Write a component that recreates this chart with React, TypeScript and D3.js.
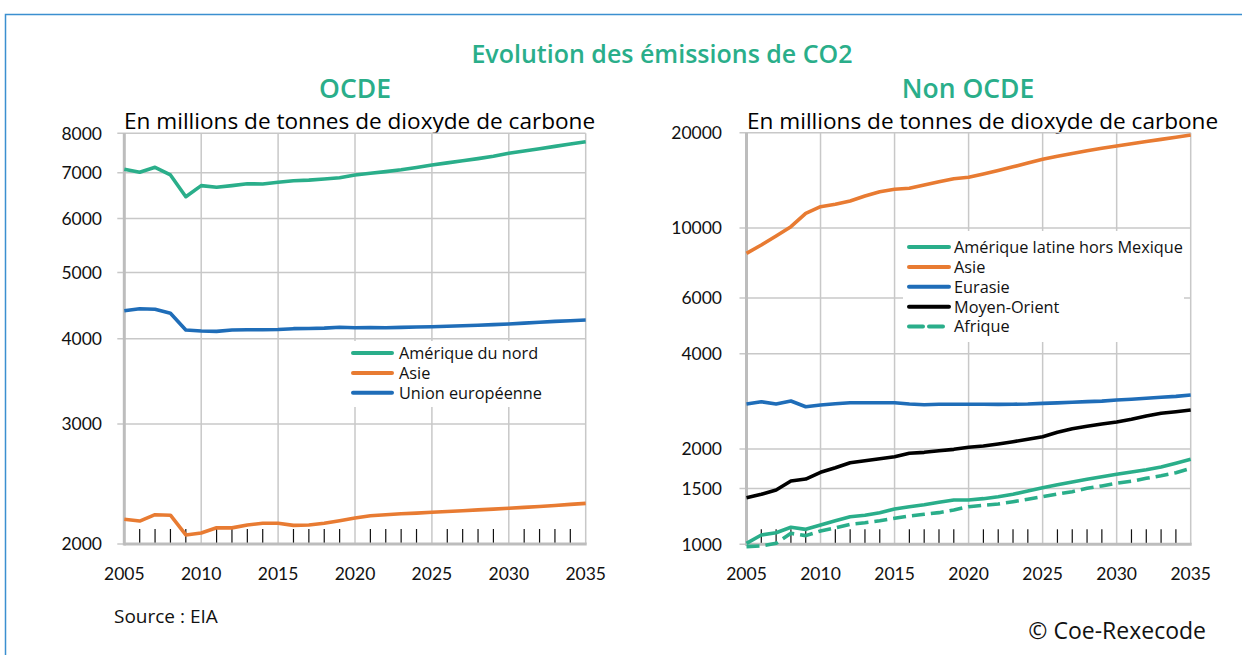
import React from "react";
import * as d3 from "d3";

const years = d3.range(2005, 2036);

// OCDE (millions de tonnes de CO2)
const ocdeAmeriqueNord = [7085, 7014, 7133, 6950, 6459, 6704, 6667, 6704, 6749, 6740, 6781, 6817, 6830, 6857, 6887, 6950, 6990, 7030, 7075, 7130, 7188, 7240, 7290, 7345, 7405, 7478, 7535, 7595, 7655, 7715, 7776];
const ocdeAsie = [2174, 2161, 2208, 2204, 2062, 2076, 2113, 2112, 2132, 2145, 2145, 2130, 2132, 2145, 2164, 2183, 2200, 2208, 2215, 2220, 2226, 2232, 2238, 2244, 2250, 2256, 2263, 2270, 2278, 2286, 2294];
const ocdeUE = [4396, 4425, 4417, 4358, 4119, 4105, 4100, 4119, 4123, 4123, 4125, 4137, 4140, 4145, 4157, 4150, 4152, 4150, 4155, 4160, 4165, 4170, 4178, 4186, 4194, 4203, 4215, 4228, 4240, 4250, 4260];

// Non OCDE
const nonAmLatine = [1007, 1070, 1088, 1132, 1115, 1151, 1187, 1222, 1235, 1259, 1293, 1315, 1334, 1358, 1380, 1380, 1394, 1414, 1439, 1474, 1510, 1543, 1574, 1605, 1636, 1664, 1693, 1721, 1755, 1803, 1856];
const nonAsie = [8314, 8830, 9430, 10090, 11123, 11670, 11876, 12165, 12617, 13015, 13250, 13345, 13667, 14000, 14311, 14455, 14820, 15200, 15600, 16050, 16478, 16850, 17200, 17550, 17850, 18155, 18450, 18750, 19050, 19350, 19668];
const nonEurasie = [2776, 2823, 2776, 2838, 2722, 2756, 2782, 2803, 2803, 2803, 2803, 2776, 2762, 2770, 2770, 2770, 2770, 2768, 2772, 2776, 2790, 2800, 2812, 2824, 2836, 2858, 2875, 2895, 2915, 2935, 2964];
const nonMoyenOrient = [1404, 1439, 1485, 1585, 1608, 1689, 1746, 1811, 1838, 1865, 1892, 1939, 1953, 1976, 1996, 2026, 2045, 2075, 2110, 2147, 2188, 2259, 2319, 2360, 2400, 2435, 2484, 2544, 2595, 2625, 2658];
const nonAfrique = [983, 988, 1007, 1083, 1065, 1102, 1128, 1157, 1170, 1187, 1208, 1229, 1244, 1259, 1284, 1315, 1328, 1341, 1363, 1388, 1414, 1443, 1466, 1503, 1529, 1559, 1582, 1616, 1647, 1684, 1738];

const leftTicks = [2000, 3000, 4000, 5000, 6000, 7000, 8000];
const rightTicks = [1000, 1500, 2000, 4000, 6000, 10000, 20000];
const xTickYears = [2005, 2010, 2015, 2020, 2025, 2030, 2035];

const GREEN = "#2aae8a";
const ORANGE = "#e87b32";
const BLUE = "#1f6db8";
const BLACK = "#000000";
const GRID = "#c8c8c8";
const AXIS = "#bdbdbd";
const FONT = "'Open Sans', 'Noto Sans', sans-serif";
const AXFONT = "Lato, 'Noto Sans', sans-serif";

type Series = { name: string; values: number[]; color: string; dash?: string };

const leftSeries: Series[] = [
  { name: "Amérique du nord", values: ocdeAmeriqueNord, color: GREEN },
  { name: "Asie", values: ocdeAsie, color: ORANGE },
  { name: "Union européenne", values: ocdeUE, color: BLUE },
];
const rightSeries: Series[] = [
  { name: "Amérique latine hors Mexique", values: nonAmLatine, color: GREEN },
  { name: "Asie", values: nonAsie, color: ORANGE },
  { name: "Eurasie", values: nonEurasie, color: BLUE },
  { name: "Moyen-Orient", values: nonMoyenOrient, color: BLACK },
  { name: "Afrique", values: nonAfrique, color: GREEN, dash: "13 6" },
];

type PanelProps = {
  x0: number; x1: number; yTop: number; yBot: number;
  domain: [number, number]; ticks: number[]; series: Series[];
  labelRight: number;
  legend: { x: number; y: number; w: number; h: number; sx0: number; sx1: number; tx: number; ty0: number };
  title: string; titleX: number; subX: number;
};

function Panel(p: PanelProps) {
  const x = d3.scaleLinear().domain([2005, 2035]).range([p.x0, p.x1]);
  const y = d3.scaleLog().domain(p.domain).range([p.yBot, p.yTop]);
  const line = d3.line<number>().x((_, i) => x(years[i])).y((v) => y(v));
  return (
    <g>
      <text x={p.titleX} y={98} textAnchor="middle" fill={GREEN} fontFamily={FONT} fontWeight={600} fontSize={26.5}>{p.title}</text>
      <text x={p.subX} y={128.5} fill="#000" fontFamily={FONT} fontSize={22.6}>En millions de tonnes de dioxyde de carbone</text>
      {p.ticks.map((t) => (
        <g key={t}>
          <line x1={p.x0 - 7} x2={p.x1} y1={y(t)} y2={y(t)} stroke={GRID} strokeWidth={1.5} />
          <text x={p.labelRight} y={y(t)} dy="0.36em" textAnchor="end" fontFamily={AXFONT} fontSize={17.5} fill="#111">{t}</text>
        </g>
      ))}
      {xTickYears.filter((yr) => yr > 2005).map((yr) => (
        <line key={yr} x1={x(yr)} x2={x(yr)} y1={p.yTop} y2={p.yBot} stroke={GRID} strokeWidth={1.5} />
      ))}
      {years.filter((yr) => yr % 5 !== 0).map((yr) => (
        <line key={yr} x1={x(yr)} x2={x(yr)} y1={p.yBot - 15} y2={p.yBot} stroke="#111" strokeWidth={1.2} />
      ))}
      <line x1={p.x0} x2={p.x0} y1={p.yTop} y2={p.yBot + 1.5} stroke={AXIS} strokeWidth={3} />
      <line x1={p.x0} x2={p.x1 + 1} y1={p.yBot} y2={p.yBot} stroke={AXIS} strokeWidth={3} />
      {xTickYears.map((yr) => (
        <text key={yr} x={x(yr)} y={580} textAnchor="middle" fontFamily={AXFONT} fontSize={17.5} fill="#111">{yr}</text>
      ))}
      {p.series.map((s) => (
        <path key={s.name} d={line(s.values) || ""} fill="none" stroke={s.color} strokeWidth={3.6} strokeLinejoin="round" strokeDasharray={s.dash} />
      ))}
      <rect x={p.legend.x} y={p.legend.y} width={p.legend.w} height={p.legend.h} fill="#fff" />
      {p.series.map((s, i) => {
        const ly = p.legend.ty0 + i * 19.9;
        return (
          <g key={s.name}>
            <line x1={p.legend.sx0} x2={p.legend.sx1} y1={ly} y2={ly} stroke={s.color} strokeWidth={4} strokeLinecap="round" strokeDasharray={s.dash ? "14 6" : undefined} />
            <text x={p.legend.tx} y={ly} dy="0.36em" fontFamily={FONT} fontSize={16.3} fill="#111">{s.name}</text>
          </g>
        );
      })}
    </g>
  );
}

export default function App() {
  return (
    <svg width={1242} height={655} style={{ position: "absolute", left: 0, top: 0, background: "#fff" }}>
      <rect x={0} y={0} width={1242} height={655} fill="#fff" />
      <rect x={5.5} y={14.5} width={1300} height={700} fill="none" stroke="#3b8fd0" strokeWidth={1.5} />
      <text x={662} y={63} textAnchor="middle" fill={GREEN} fontFamily={FONT} fontWeight={600} fontSize={25}>Evolution des émissions de CO2</text>
      <Panel
        x0={124.3} x1={585.7} yTop={133.3} yBot={544}
        domain={[2000, 8000]} ticks={leftTicks} series={leftSeries}
        labelRight={102}
        legend={{ x: 346, y: 341, w: 238, h: 66, sx0: 353, sx1: 392, tx: 399, ty0: 353 }}
        title="OCDE" titleX={355} subX={124}
      />
      <Panel
        x0={746.5} x1={1190.7} yTop={132.7} yBot={544.3}
        domain={[1000, 20000]} ticks={rightTicks} series={rightSeries}
        labelRight={722}
        legend={{ x: 903, y: 231, w: 281, h: 111, sx0: 909, sx1: 949, tx: 954, ty0: 247 }}
        title="Non OCDE" titleX={968} subX={747}
      />
      <text x={114} y={623} fontFamily={FONT} fontSize={19} fill="#111">Source : EIA</text>
      <text x={1206} y={639} textAnchor="end" fontFamily={FONT} fontSize={23} fill="#111">© Coe-Rexecode</text>
    </svg>
  );
}
